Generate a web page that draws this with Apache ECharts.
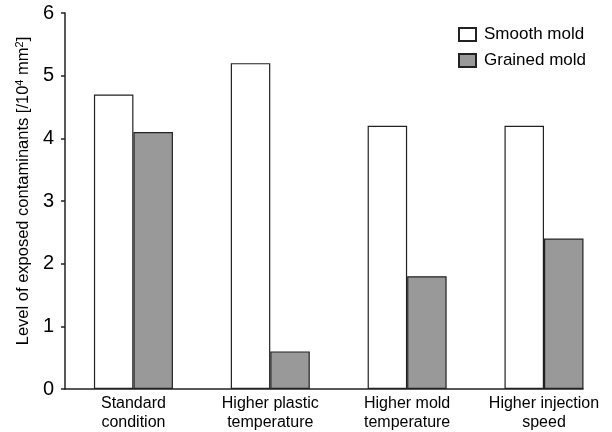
<!DOCTYPE html>
<html>
<head>
<meta charset="utf-8">
<script src="https://cdn.jsdelivr.net/npm/echarts@6/dist/echarts.min.js"></script>
</head>
<body style="margin:0;padding:0">
<div id="chart" style="width:612px;height:432px"></div>
<script>
var categories = ['Standard\ncondition', 'Higher plastic\ntemperature', 'Higher mold\ntemperature', 'Higher injection\nspeed'];
var positions = [1, 2, 3, 4];
var smoothMold = [4.7, 5.2, 4.2, 4.2];
var grainedMold = [4.1, 0.6, 1.8, 2.4];
var yTicks = [0, 1, 2, 3, 4, 5, 6];

var chart = echarts.init(document.getElementById('chart'));
var font = 'Liberation Sans, Arial, sans-serif';

function pairs(vals) {
  return vals.map(function (v, i) { return [positions[i], v]; });
}

var option = {
  backgroundColor: '#fff',
  animation: false,
  textStyle: { fontFamily: font, color: '#000' },
  grid: { left: 65, right: 29, top: 13, bottom: 41 },
  legend: {
    left: 453, top: 21, orient: 'vertical', itemGap: 9,
    itemWidth: 17, itemHeight: 13, icon: 'rect',
    textStyle: { fontSize: 17, color: '#000', fontFamily: font, padding: [0, 0, 0, 3] },
    data: ['Smooth mold', 'Grained mold']
  },
  xAxis: {
    type: 'value', min: 0.5, max: 4.285,
    axisLine: { show: true, lineStyle: { color: '#222', width: 1.5 } },
    axisTick: { show: false },
    splitLine: { show: false },
    axisLabel: {
      customValues: positions,
      formatter: function (v) { return categories[Math.round(v) - 1] || ''; },
      fontSize: 16, color: '#000', lineHeight: 19, margin: 5, fontFamily: font
    }
  },
  yAxis: {
    type: 'value', min: 0, max: 6, interval: 1,
    name: 'Level of exposed contaminants [/10{sup|4} mm{sup|2}]',
    nameLocation: 'middle', nameGap: 31, nameRotate: 90,
    nameTextStyle: {
      fontSize: 16.5, color: '#000', fontFamily: font,
      padding: [0, 0, 0, 20],
      rich: { sup: { fontSize: 11, verticalAlign: 'top', padding: [0, 0, 7, 0], fontFamily: font } }
    },
    axisLine: { show: true, lineStyle: { color: '#222', width: 1.5 } },
    axisTick: { show: true, inside: false, length: 4, lineStyle: { color: '#222', width: 1.5 } },
    splitLine: { show: false },
    axisLabel: {
      fontSize: 20, color: '#000', margin: 11, fontFamily: font,
      formatter: function (v) { return yTicks.indexOf(v) >= 0 ? String(v) : ''; }
    }
  },
  series: [
    {
      name: 'Smooth mold', type: 'bar', data: pairs(smoothMold),
      barWidth: 39.5, barGap: '0%',
      itemStyle: { color: '#fff', borderColor: '#222', borderWidth: 1.2 }
    },
    {
      name: 'Grained mold', type: 'bar', data: pairs(grainedMold),
      barWidth: 39.5, barGap: '0%',
      itemStyle: { color: '#999999', borderColor: '#222', borderWidth: 1.2 }
    }
  ]
};
chart.setOption(option);
</script>
</body>
</html>
